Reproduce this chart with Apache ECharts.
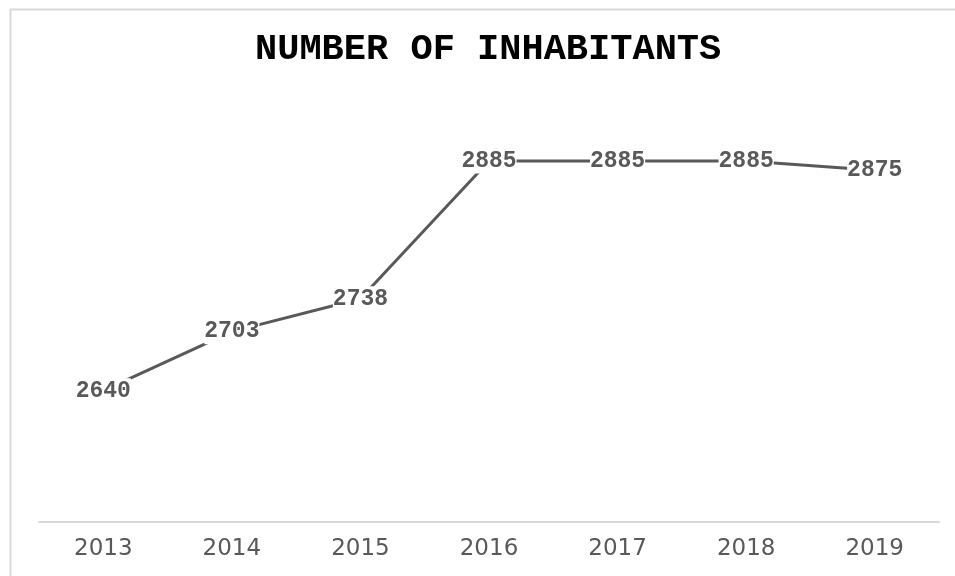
<!DOCTYPE html>
<html>
<head>
<meta charset="utf-8">
<script src="https://cdn.jsdelivr.net/npm/echarts@6/dist/echarts.min.js"></script>
<style>
  html, body { margin: 0; padding: 0; background: #ffffff; }
  #chart { width: 955px; height: 576px; }
</style>
</head>
<body>
<div id="chart"></div>
<script>
// Population per year
const years = ['2013', '2014', '2015', '2016', '2017', '2018', '2019'];
const inhabitants = [2640, 2703, 2738, 2885, 2885, 2885, 2875];
const chartTitle = 'NUMBER OF INHABITANTS';

const grey = '#595959';
const chart = echarts.init(document.getElementById('chart'), null, { renderer: 'canvas' });

chart.setOption({
  backgroundColor: '#ffffff',
  animation: false,
  title: {
    text: chartTitle,
    left: 250,
    top: 26,
    textStyle: {
      fontFamily: 'Liberation Mono',
      fontWeight: 'bold',
      fontSize: 37,
      color: '#000000'
    }
  },
  graphic: [{
    type: 'rect',
    left: 8,
    top: 7,
    shape: { width: 1000, height: 1000 },
    style: { fill: 'none', stroke: '#d9d9d9', lineWidth: 2 },
    silent: true,
    z: 0
  }],
  grid: { left: 39, right: 16, top: 100, bottom: 54, containLabel: false },
  xAxis: {
    type: 'category',
    data: years,
    boundaryGap: true,
    axisLine: { show: true, lineStyle: { color: '#d9d9d9', width: 2 } },
    axisTick: { show: false },
    axisLabel: {
      margin: 16,
      fontFamily: 'DejaVu Sans',
      fontSize: 23,
      color: grey
    }
  },
  yAxis: {
    type: 'value',
    min: 2500,
    max: 2950,
    show: false,
    splitLine: { show: false }
  },
  series: [{
    type: 'line',
    data: inhabitants,
    symbol: 'circle',
    symbolSize: 1,
    showSymbol: true,
    itemStyle: { color: 'rgba(0,0,0,0)' },
    lineStyle: { color: grey, width: 3 },
    label: {
      show: true,
      position: 'inside',
      fontFamily: 'Liberation Mono',
      fontWeight: 'bold',
      fontSize: 23,
      color: grey,
      backgroundColor: '#ffffff',
      padding: [1, 0, 1, 0]
    },
    labelLayout: { hideOverlap: false },
    z: 2
  }]
});
</script>
</body>
</html>
